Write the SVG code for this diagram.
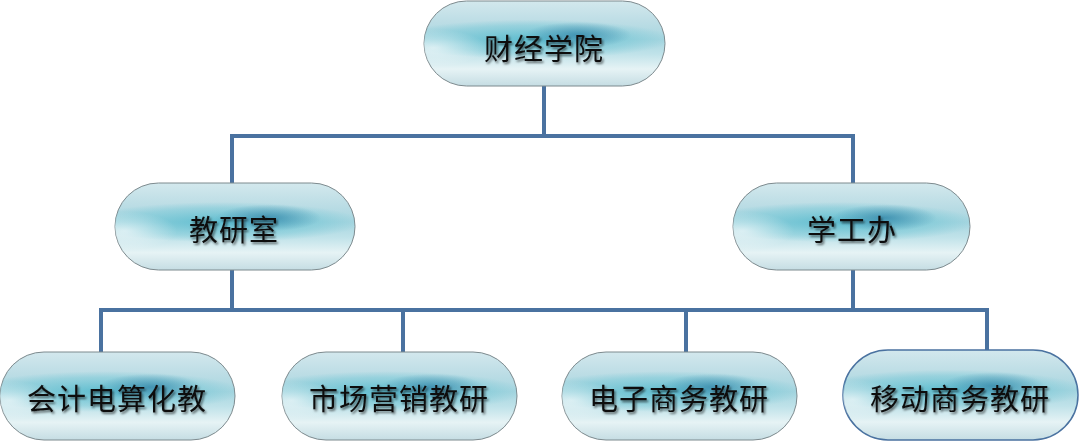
<svg xmlns="http://www.w3.org/2000/svg" width="1080" height="442" viewBox="0 0 1080 442">
<style>
.conn{fill:none;stroke:#4a72a0;stroke-width:4;stroke-linejoin:miter;stroke-linecap:butt}
.pill{fill:url(#base);stroke:#7d8a8e;stroke-width:1}
.band{fill:url(#band)}
.spot{fill:url(#spot)}
.glow{fill:url(#glow)}
.lbl{font-family:"Noto Sans CJK SC","Noto Sans CJK TC",sans-serif;font-size:29px;font-weight:400;fill:#111;text-anchor:middle;dominant-baseline:central;letter-spacing:1px;filter:url(#sh)}
</style>
<defs>
<linearGradient id="base" x1="0" y1="0" x2="0" y2="1">
<stop offset="0" stop-color="#d3e8ed"/>
<stop offset="0.25" stop-color="#bcdde5"/>
<stop offset="0.45" stop-color="#a8d6e0"/>
<stop offset="0.62" stop-color="#bfe2e9"/>
<stop offset="0.8" stop-color="#e6f3f5"/>
<stop offset="1" stop-color="#c5dde3"/>
</linearGradient>
<radialGradient id="band" cx="0.45" cy="0.45" r="0.58" gradientTransform="translate(0.45 0.45) scale(1 0.4) translate(-0.45 -0.45)">
<stop offset="0" stop-color="#3fb2c8" stop-opacity="0.7"/>
<stop offset="0.7" stop-color="#5cbfd0" stop-opacity="0.35"/>
<stop offset="1" stop-color="#5cbfd0" stop-opacity="0"/>
</radialGradient>
<radialGradient id="spot" cx="0.64" cy="0.4" r="0.22" gradientTransform="translate(0.64 0.4) scale(1 0.7) translate(-0.64 -0.4)">
<stop offset="0" stop-color="#2a7ea3" stop-opacity="0.7"/>
<stop offset="1" stop-color="#2a7ea3" stop-opacity="0"/>
</radialGradient>
<radialGradient id="glow" cx="0.04" cy="0.55" r="0.22">
<stop offset="0" stop-color="#ffffff" stop-opacity="0.6"/>
<stop offset="1" stop-color="#ffffff" stop-opacity="0"/>
</radialGradient>
<filter id="sh" x="-10%" y="-30%" width="120%" height="160%">
<feDropShadow dx="1.5" dy="2" stdDeviation="1.2" flood-color="#000" flood-opacity="0.55"/>
</filter>
</defs>
<g id="connectors">
<path class="conn" d="M544 86 V136"/>
<path class="conn" d="M232 183 V136 H853 V183"/>
<path class="conn" d="M232 270 V310"/>
<path class="conn" d="M853 270 V310"/>
<path class="conn" d="M101 352 V310 H987 V350"/>
<path class="conn" d="M403 310 V352"/>
<path class="conn" d="M686 310 V352"/>
</g>
<g id="n-top">
<rect class="pill" x="424" y="1" width="241" height="85" rx="42.5"/>
<rect class="band" x="424" y="1" width="241" height="85" rx="42.5"/>
<rect class="spot" x="424" y="1" width="241" height="85" rx="42.5"/>
<rect class="glow" x="424" y="1" width="241" height="85" rx="42.5"/>
<text class="lbl" x="544" y="47">财经学院</text>
</g>
<g id="n-jys">
<rect class="pill" x="115" y="183" width="240" height="87" rx="43.5"/>
<rect class="band" x="115" y="183" width="240" height="87" rx="43.5"/>
<rect class="spot" x="115" y="183" width="240" height="87" rx="43.5"/>
<rect class="glow" x="115" y="183" width="240" height="87" rx="43.5"/>
<text class="lbl" x="234" y="228">教研室</text>
</g>
<g id="n-xgb">
<rect class="pill" x="733" y="183" width="237" height="87" rx="43.5"/>
<rect class="band" x="733" y="183" width="237" height="87" rx="43.5"/>
<rect class="spot" x="733" y="183" width="237" height="87" rx="43.5"/>
<rect class="glow" x="733" y="183" width="237" height="87" rx="43.5"/>
<text class="lbl" x="852" y="228">学工办</text>
</g>
<g id="n-kj">
<rect class="pill" x="0" y="352" width="235" height="88" rx="44"/>
<rect class="band" x="0" y="352" width="235" height="88" rx="44"/>
<rect class="spot" x="0" y="352" width="235" height="88" rx="44"/>
<rect class="glow" x="0" y="352" width="235" height="88" rx="44"/>
<text class="lbl" x="117" y="397">会计电算化教</text>
</g>
<g id="n-sc">
<rect class="pill" x="282" y="352" width="235" height="88" rx="44"/>
<rect class="band" x="282" y="352" width="235" height="88" rx="44"/>
<rect class="spot" x="282" y="352" width="235" height="88" rx="44"/>
<rect class="glow" x="282" y="352" width="235" height="88" rx="44"/>
<text class="lbl" x="399" y="397">市场营销教研</text>
</g>
<g id="n-dz">
<rect class="pill" x="562" y="352" width="235" height="88" rx="44"/>
<rect class="band" x="562" y="352" width="235" height="88" rx="44"/>
<rect class="spot" x="562" y="352" width="235" height="88" rx="44"/>
<rect class="glow" x="562" y="352" width="235" height="88" rx="44"/>
<text class="lbl" x="679" y="397">电子商务教研</text>
</g>
<g id="n-yd">
<rect class="pill" x="843" y="350" width="235" height="90" rx="45" style="stroke:#4a72a0;stroke-width:1.5"/>
<rect class="band" x="843" y="350" width="235" height="90" rx="45"/>
<rect class="spot" x="843" y="350" width="235" height="90" rx="45"/>
<rect class="glow" x="843" y="350" width="235" height="90" rx="45"/>
<text class="lbl" x="960" y="397">移动商务教研</text>
</g>
</svg>
